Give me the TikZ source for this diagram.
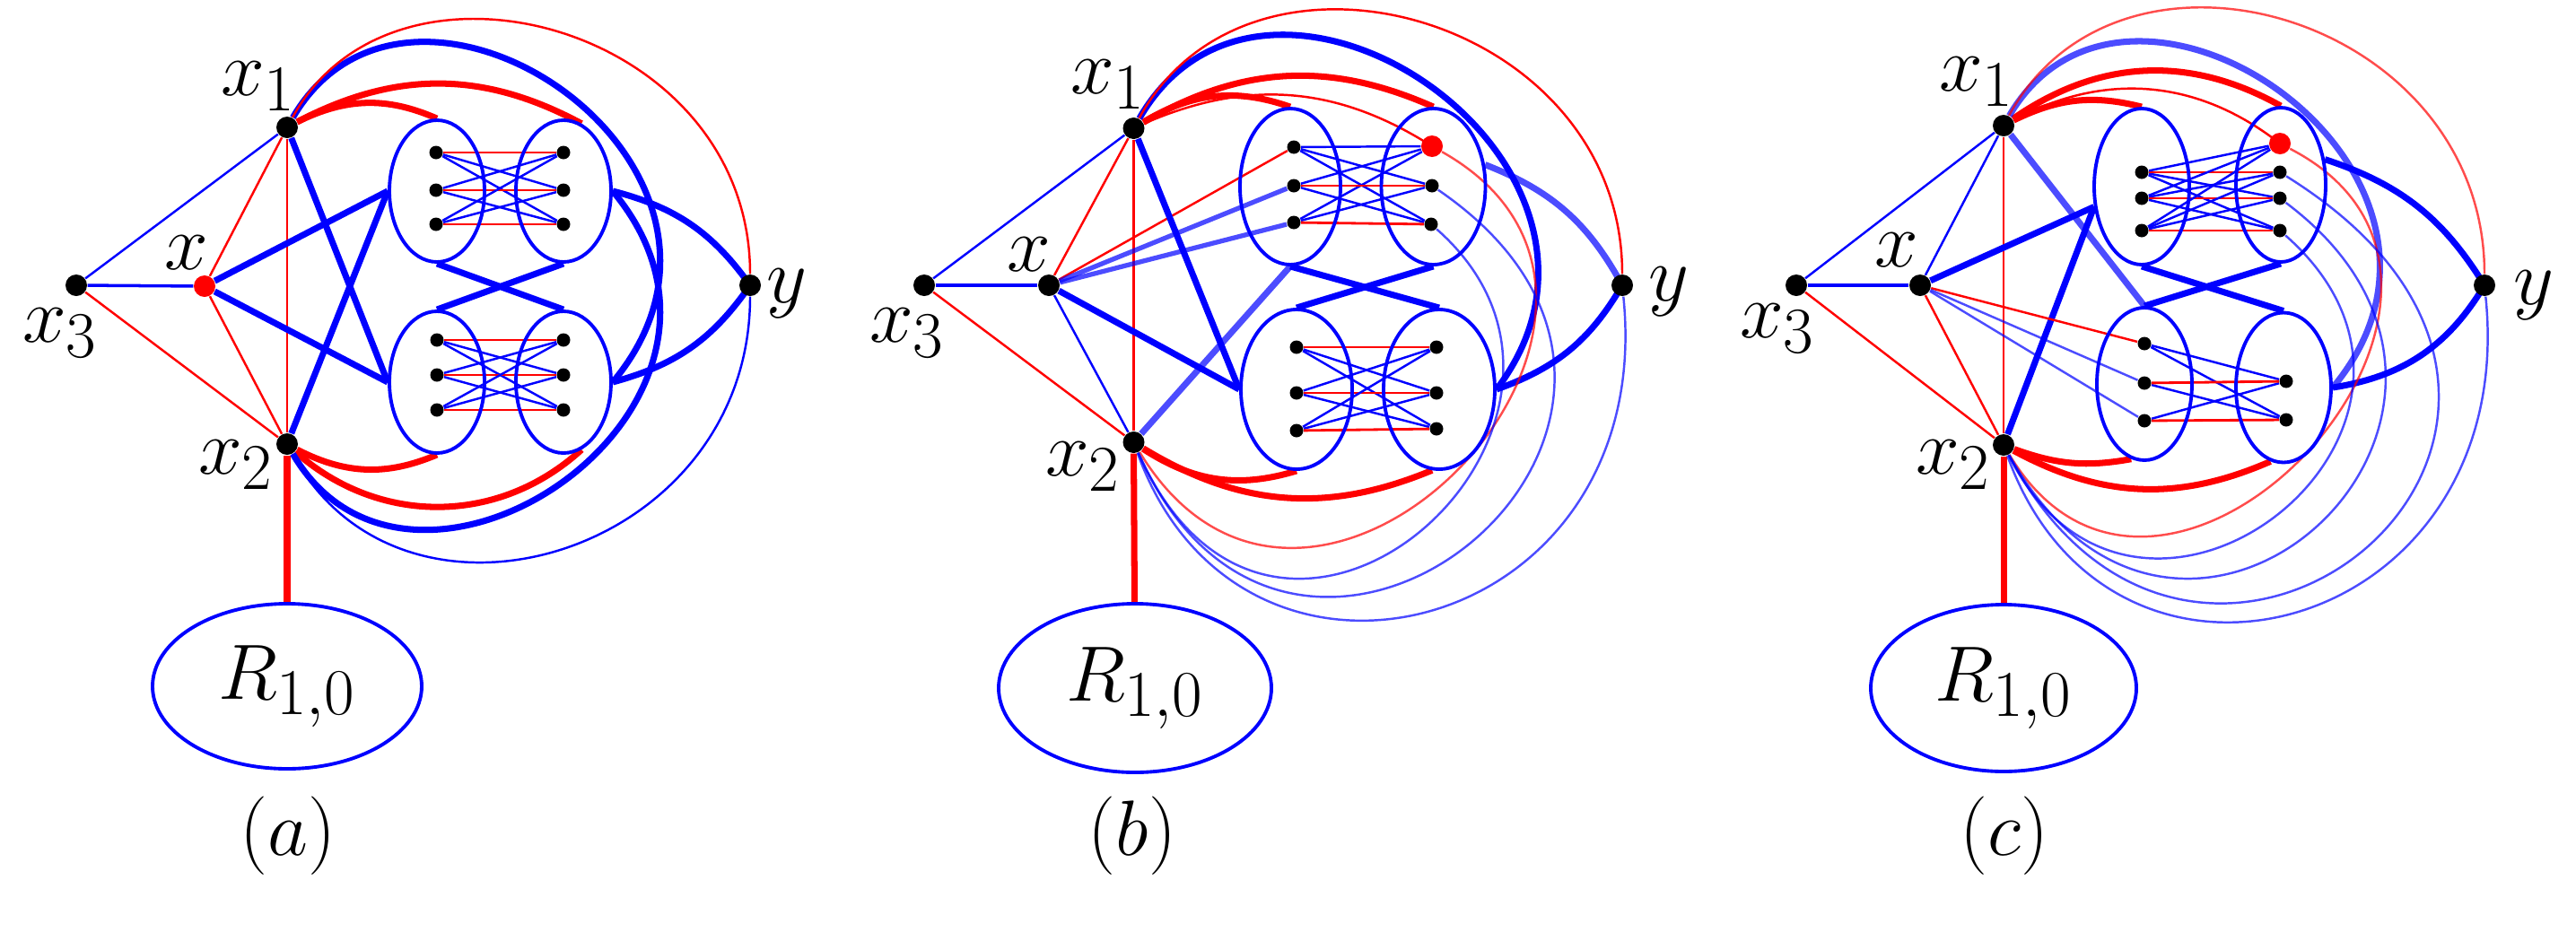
\documentclass[tikz,border=0pt]{standalone}
\usetikzlibrary{shapes.geometric}
\pgfdeclarelayer{bg}
\pgfsetlayers{bg,main}
\tikzset{
  vtx/.style={circle, fill=black, inner sep=0pt, minimum size=2.4mm},
  rvtx/.style={vtx, fill=red},
  dt/.style={circle, fill=black, inner sep=0pt, minimum size=1.5mm},
  part/.style={ellipse, draw=blue, line width=1.1pt, inner sep=0pt},
  lab/.style={font=\Huge},
  rthin/.style={red, line width=0.7pt},
  bthin/.style={blue, line width=0.7pt},
  bmid/.style={blue, line width=1.0pt},
  rthick/.style={red, line width=2.0pt},
  bthick/.style={blue, line width=2.0pt},
  bfade/.style={bthick, draw opacity=0.7},
  bmfade/.style={blue, line width=1.5pt, draw opacity=0.7},
  bfthin/.style={bthin, draw opacity=0.7},
  rfthin/.style={rthin, draw opacity=0.7},
  inr/.style={red, line width=0.8pt},
  inb/.style={blue, line width=0.7pt}
}
\begin{document}
\begin{tikzpicture}
\useasboundingbox (0,0) rectangle (28.71,10.58);

% (a)
\begin{scope}[name prefix=a-]
% вершины
\node[vtx] (x1) at (3.20,9.16) {};
\node[vtx] (x2) at (3.20,5.63) {};
\node[vtx] (x3) at (0.85,7.40) {};
\node[rvtx] (x) at (2.28,7.39) {};
\node[vtx] (y) at (8.36,7.40) {};
\node[part, lab, minimum width=3.0cm, minimum height=1.84cm] (R) at (3.20,2.93) {$R_{1,0}$};
% доли
\node[part, minimum width=1.06cm, minimum height=1.58cm] (TL) at (4.87,8.45) {};
\node[part, minimum width=1.06cm, minimum height=1.58cm] (TR) at (6.28,8.45) {};
\node[part, minimum width=1.06cm, minimum height=1.58cm] (BL) at (4.87,6.32) {};
\node[part, minimum width=1.06cm, minimum height=1.58cm] (BR) at (6.28,6.32) {};
% точки
\foreach \i/\u/\v in {1/8.88/6.79, 2/8.46/6.40, 3/8.08/6.01} {
  \node[dt] (p\i) at (4.86,\u) {};
  \node[dt] (q\i) at (6.28,\u) {};
  \node[dt] (s\i) at (4.87,\v) {};
  \node[dt] (t\i) at (6.28,\v) {};
}
% подписи
\node[lab] (lx1) at (2.88,9.62) {$x_1$};
\node[lab] (lx) at (2.08,7.76) {$x$};
\node[lab] (lx3) at (0.67,6.87) {$x_3$};
\node[lab] (lx2) at (2.63,5.40) {$x_2$};
\node[lab] (ly) at (8.77,7.31) {$y$};
\node[lab] (cap) at (3.21,1.26) {$(a)$};
% рёбра
\begin{pgfonlayer}{bg}
\draw[bthin] (x3) -- (x1);
\draw[bmid] (x3) -- (x);
\draw[rthin] (x3) -- (x2);
\draw[rthin] (x) -- (x1);
\draw[rthin] (x) -- (x2);
\draw[rthin] (x1) -- (x2);
\draw[rthick] (x2) -- (R);
\draw[bthick] (x) -- (TL.west);
\draw[bthick] (x) -- (BL.west);
\draw[bthick] (x1) -- (BL.west);
\draw[bthick] (x2) -- (TL.west);
\draw[bthick] (TL.south) -- (BR.north);
\draw[bthick] (TR.south) -- (BL.north);
\draw[rthick] (x1) to[bend left=25] (TL.north);
\draw[rthick] (x1) to[bend left=28] (TR.75);
\draw[rthick] (x2) to[bend right=25] (BL.south);
\draw[rthick] (x2) to[bend right=42] (BR.-75);
\draw[bthick] (x1) .. controls +(1.4,2.4) and +(2.0,2.4) .. (BR.east);
\draw[bthick] (x2) .. controls +(1.4,-2.4) and +(2.0,-2.4) .. (TR.east);
\draw[rthin] (x1) .. controls +(1.2,2.2) and +(0,2.9) .. (y);
\draw[bthin] (x2) .. controls +(1.3,-2.4) and +(0,-3.0) .. (y);
\draw[bthick] (TR.east) to[bend left=20] (y);
\draw[bthick] (BR.east) to[bend right=20] (y);
\foreach \i in {1,2,3} {
  \foreach \j in {1,2,3} {\ifnum\i=\j\else \draw[inb] (p\i) -- (q\j); \draw[inb] (s\i) -- (t\j); \fi}
  \draw[inr] (p\i) -- (q\i);
  \draw[inr] (s\i) -- (t\i);
}
\end{pgfonlayer}
\end{scope}

% (b)
\begin{scope}[name prefix=b-]
% вершины
\node[vtx] (x1) at (12.635,9.15) {};
\node[vtx] (x2) at (12.635,5.65) {};
\node[vtx] (x3) at (10.30,7.40) {};
\node[vtx] (x) at (11.69,7.40) {};
\node[vtx] (y) at (18.08,7.40) {};
\node[part, lab, minimum width=3.04cm, minimum height=1.88cm] (R) at (12.65,2.91) {$R_{1,0}$};
% доли
\node[part, minimum width=1.12cm, minimum height=1.74cm] (TL) at (14.38,8.50) {};
\node[part, minimum width=1.16cm, minimum height=1.74cm] (TR) at (15.975,8.50) {};
\node[part, minimum width=1.24cm, minimum height=1.78cm] (BL) at (14.45,6.24) {};
\node[part, minimum width=1.24cm, minimum height=1.78cm] (BR) at (16.04,6.24) {};
% точки
\foreach \i/\u/\v/\w in {1/8.94/6.71/6.71, 2/8.51/6.20/6.20, 3/8.10/5.78/5.80} {
  \node[dt] (p\i) at (14.42,\u) {};
  \node[dt] (s\i) at (14.45,\v) {};
  \node[dt] (t\i) at (16.01,\w) {};
}
\node[rvtx] (q1) at (15.96,8.95) {};
\node[dt] (q2) at (15.96,8.51) {};
\node[dt] (q3) at (15.95,8.08) {};
% подписи
\node[lab] (lx1) at (12.35,9.64) {$x_1$};
\node[lab] (lx) at (11.47,7.74) {$x$};
\node[lab] (lx3) at (10.11,6.87) {$x_3$};
\node[lab] (lx2) at (12.07,5.38) {$x_2$};
\node[lab] (ly) at (18.60,7.33) {$y$};
\node[lab] (cap) at (12.62,1.26) {$(b)$};
% рёбра
\begin{pgfonlayer}{bg}
\draw[bthin] (x3) -- (x1);
\draw[bmid] (x3) -- (x);
\draw[rthin] (x3) -- (x2);
\draw[rthin] (x) -- (x1);
\draw[bthin] (x) -- (x2);
\draw[rthin] (x1) -- (x2);
\draw[rthick] (x2) -- (R);
\draw[rthin] (x) -- (p1);
\draw[bmfade] (x) -- (p2);
\draw[bmfade] (x) -- (p3);
\draw[bthick] (x) -- (BL.west);
\draw[bthick] (x1) -- (BL.west);
\draw[bfade] (x2) -- (TL.south);
\draw[bthick] (TL.south) -- (BR.north);
\draw[bthick] (TR.south) -- (BL.north);
\draw[rthick] (x1) to[bend left=25] (TL.north);
\draw[rthick] (x1) to[bend left=27] (TR.north);
\draw[rthin] (x1) to[bend left=28] (q1);
\draw[bthick] (x1) .. controls +(1.5,2.6) and +(1.9,2.5) .. (BR.east);
\draw[rthin] (x1) .. controls +(1.3,2.4) and +(0,3.0) .. (y);
\draw[bfade] (TR.23) to[bend left=20] (y);
\draw[bthick] (BR.east) to[bend right=20] (y);
\draw[rthick] (x2) to[bend right=25] (BL.south);
\draw[rthick] (x2) to[bend right=27] (BR.-95);
\draw[rfthin] (x2) .. controls +(2.0,-3.3) and +(3.2,-1.8) .. (q1);
\draw[bfthin] (x2) .. controls +(1.6,-3.6) and +(2.5,-2.2) .. (q3);
\draw[bfthin] (x2) .. controls +(1.8,-4.1) and +(3.8,-2.6) .. (q2);
\draw[bfthin] (x2) .. controls +(1.2,-3.35) and +(0.4,-3.9) .. (y);
\foreach \i in {1,2,3} {
  \foreach \j in {1,2,3} {\ifnum\i=\j\else \draw[inb] (p\i) -- (q\j); \draw[inb] (s\i) -- (t\j); \fi}
  \draw[inr] (s\i) -- (t\i);
}
\draw[inb] (p1) -- (q1);
\draw[inr] (p2) -- (q2);
\draw[inr] (p3) -- (q3);
\end{pgfonlayer}
\end{scope}

% (c)
\begin{scope}[name prefix=c-]
% вершины
\node[vtx] (x1) at (22.33,9.18) {};
\node[vtx] (x2) at (22.33,5.62) {};
\node[vtx] (x3) at (20.02,7.40) {};
\node[vtx] (x) at (21.40,7.40) {};
\node[vtx] (y) at (27.69,7.40) {};
\node[part, lab, minimum width=2.96cm, minimum height=1.86cm] (R) at (22.33,2.91) {$R_{1,0}$};
% доли
\node[part, minimum width=1.06cm, minimum height=1.74cm] (TL) at (23.87,8.50) {};
\node[part, minimum width=1.00cm, minimum height=1.72cm] (TR) at (25.42,8.52) {};
\node[part, minimum width=1.06cm, minimum height=1.70cm] (BL) at (23.90,6.30) {};
\node[part, minimum width=1.06cm, minimum height=1.67cm] (BR) at (25.45,6.26) {};
% точки
\foreach \i/\u/\v in {1/8.66/6.75, 2/8.37/6.31, 3/8.01/5.89} {
  \node[dt] (p\i) at (23.87,\u) {};
  \node[dt] (q\i) at (25.41,\u) {};
  \node[dt] (s\i) at (23.90,\v) {};
}
\node[rvtx] (q0) at (25.41,8.98) {};
\node[dt] (t2) at (25.48,6.33) {};
\node[dt] (t3) at (25.48,5.90) {};
% подписи
\node[lab] (lx1) at (22.03,9.67) {$x_1$};
\node[lab] (lx) at (21.14,7.79) {$x$};
\node[lab] (lx3) at (19.81,6.92) {$x_3$};
\node[lab] (lx2) at (21.77,5.40) {$x_2$};
\node[lab] (ly) at (28.24,7.29) {$y$};
\node[lab] (cap) at (22.34,1.26) {$(c)$};
% рёбра
\begin{pgfonlayer}{bg}
\draw[bthin] (x3) -- (x1);
\draw[bmid] (x3) -- (x);
\draw[rthin] (x3) -- (x2);
\draw[bthin] (x) -- (x1);
\draw[rthin] (x) -- (x2);
\draw[rthin] (x1) -- (x2);
\draw[rthick] (x2) -- (R);
\draw[bthick] (x) -- (TL.203);
\draw[bthick] (x2) -- (TL.203);
\draw[bfade] (x1) -- (BL.north);
\draw[rthin] (x) -- (s1);
\draw[bfthin] (x) -- (s2);
\draw[bfthin] (x) -- (s3);
\draw[bthick] (TL.south) -- (BR.north);
\draw[bthick] (TR.south) -- (BL.north);
\draw[rthick] (x1) to[bend left=20] (TL.north);
\draw[rthick] (x1) to[bend left=32] (TR.north);
\draw[rthin] (x1) to[bend left=33] (q0);
\draw[bfade] (x1) .. controls +(1.4,2.4) and +(2.0,2.4) .. (BR.east);
\draw[rfthin] (x1) .. controls +(1.3,2.4) and +(0,3.0) .. (y);
\draw[bthick] (TR.30) to[bend left=20] (y);
\draw[bthick] (BR.east) to[bend right=25] (y);
\draw[rthick] (x2) to[bend right=15] (BL.-100);
\draw[rthick] (x2) to[bend right=26] (BR.-100);
\draw[rfthin] (x2) .. controls +(1.8,-3.0) and +(3.1,-1.6) .. (q0);
\draw[bfthin] (x2) .. controls +(1.5,-3.0) and +(2.5,-2.2) .. (q3);
\draw[bfthin] (x2) .. controls +(2.0,-3.6) and +(3.2,-2.4) .. (q2);
\draw[bfthin] (x2) .. controls +(2.2,-4.2) and +(4.5,-2.8) .. (q1);
\draw[bfthin] (x2) .. controls +(1.2,-3.35) and +(0.4,-3.9) .. (y);
\foreach \i in {1,2,3} {
  \foreach \j in {1,2,3} {\ifnum\i=\j\else \draw[inb] (p\i) -- (q\j); \fi}
  \draw[inr] (p\i) -- (q\i);
  \draw[inb] (p\i) -- (q0);
}
\draw[inb] (s1) -- (t2);
\draw[inb] (s1) -- (t3);
\draw[inb] (s2) -- (t3);
\draw[inb] (s3) -- (t2);
\draw[inr] (s2) -- (t2);
\draw[inr] (s3) -- (t3);
\end{pgfonlayer}
\end{scope}
\end{tikzpicture}
\end{document}
